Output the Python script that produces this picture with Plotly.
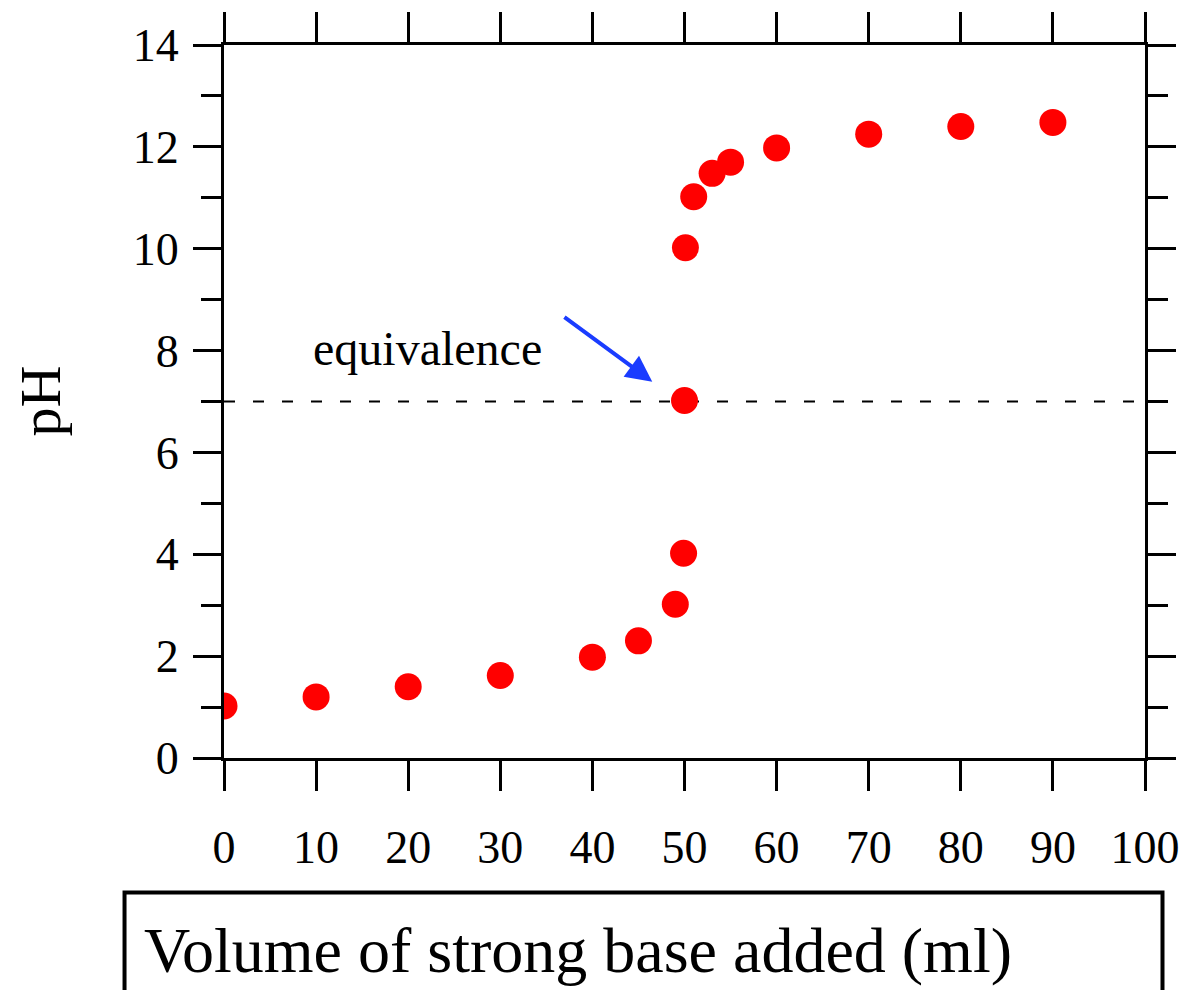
import plotly.graph_objects as go

# titration data
volume_ml = [0, 10, 20, 30, 40, 45, 49, 49.9, 50, 50.1, 51, 53, 55, 60, 70, 80, 90]
ph_values = [1.02, 1.2, 1.4, 1.62, 1.98, 2.3, 3.02, 4.02, 7.02, 10.02, 11.02, 11.48, 11.7, 11.98, 12.25, 12.4, 12.48]

equivalence_ph = 7
x_ticks = [0, 10, 20, 30, 40, 50, 60, 70, 80, 90, 100]
y_ticks = [0, 2, 4, 6, 8, 10, 12, 14]

serif = "Liberation Serif, Times New Roman, serif"

fig = go.Figure()

# dashed equivalence line
fig.add_trace(
    go.Scatter(
        x=[0, 100],
        y=[equivalence_ph, equivalence_ph],
        mode="lines",
        line=dict(color="black", width=2, dash="11px,18px"),
        hoverinfo="skip",
        showlegend=False,
    )
)

fig.add_trace(
    go.Scatter(
        x=volume_ml,
        y=ph_values,
        mode="markers",
        marker=dict(color="#ff0000", size=27),
        showlegend=False,
    )
)

axis_common = dict(
    showline=True,
    linecolor="black",
    linewidth=3,
    mirror="allticks",
    ticks="outside",
    tickwidth=3,
    tickcolor="black",
    showgrid=False,
    zeroline=False,
    tickfont=dict(family=serif, size=46, color="black"),
)

fig.update_xaxes(
    range=[0, 100],
    tickmode="array",
    tickvals=x_ticks,
    ticklen=30,
    ticklabelstandoff=17,
    **axis_common,
)
fig.update_yaxes(
    range=[0, 14],
    tickmode="array",
    tickvals=y_ticks,
    ticklen=28,
    ticklabelstandoff=5,
    minor=dict(ticks="outside", ticklen=20, tickwidth=3, tickcolor="black", dtick=1, showgrid=False),
    **axis_common,
)

# y axis title
fig.add_annotation(
    text="pH",
    xref="paper",
    yref="paper",
    x=-0.199,
    y=0.501,
    xanchor="center",
    yanchor="middle",
    showarrow=False,
    textangle=-90,
    font=dict(family=serif, size=58, color="black"),
)

# boxed x axis title
fig.add_shape(
    type="rect",
    xref="paper",
    yref="paper",
    x0=-0.108,
    x1=1.019,
    y0=-0.34,
    y1=-0.1885,
    line=dict(color="black", width=4),
    fillcolor="rgba(0,0,0,0)",
)
fig.add_annotation(
    text="Volume of strong base added (ml)",
    xref="paper",
    yref="paper",
    x=-0.0885,
    y=-0.27,
    xanchor="left",
    yanchor="middle",
    showarrow=False,
    font=dict(family=serif, size=64, color="black"),
)

# equivalence label and arrow
fig.add_annotation(
    text="equivalence",
    x=22.1,
    y=8.04,
    showarrow=False,
    font=dict(family=serif, size=48, color="black"),
)
fig.add_annotation(
    x=46.5,
    y=7.39,
    ax=36.8,
    ay=8.68,
    axref="x",
    ayref="y",
    text="",
    showarrow=True,
    arrowhead=2,
    arrowsize=1.3,
    arrowwidth=4,
    arrowcolor="#1a3cff",
)

fig.update_layout(
    width=1192,
    height=990,
    margin=dict(l=224, r=42, t=42, b=232),
    plot_bgcolor="white",
    paper_bgcolor="white",
    font=dict(family=serif, color="black"),
)

fig.write_html(
    "out.html",
    config={"displayModeBar": False},
    post_script="document.body.style.margin='0';document.body.style.overflow='hidden';",
)
